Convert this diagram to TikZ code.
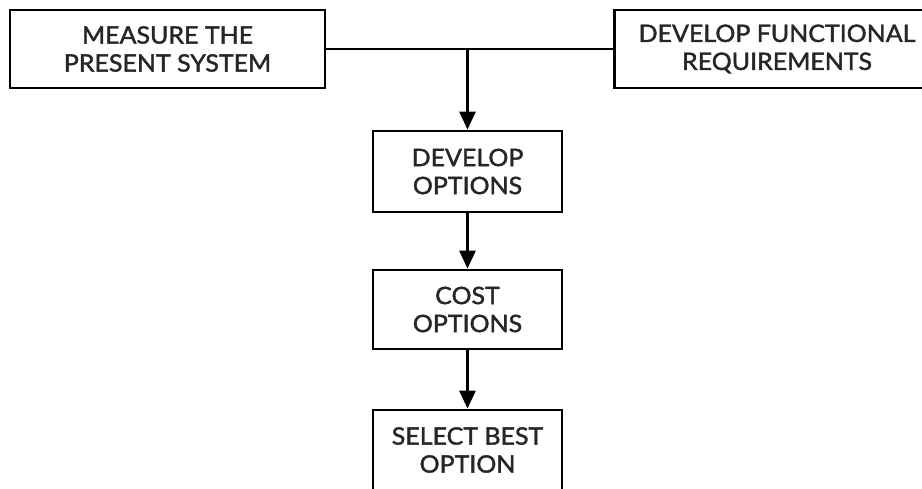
\documentclass[tikz,border=0pt]{standalone}
\usepackage{fontspec}
\setmainfont{Lato}
\newfontfamily\boxfont{Lato}[FakeBold=1.6, FakeStretch=1.04]
\usetikzlibrary{arrows.meta}
\begin{document}
\begin{tikzpicture}[x=1pt,y=-1pt,
  box/.style={draw=black, line width=2.8pt, align=center, inner sep=0pt,
    font=\boxfont\fontsize{24}{28}\selectfont, text=black!85},
  conn/.style={line width=2.8pt, draw=black},
  arr/.style={conn, -{Triangle[length=18pt,width=16pt]}}]
\clip (0,0) rectangle (922,488);
\fill[white] (0,0) rectangle (922,488);
\node[box, minimum width=315pt, minimum height=78pt] (b1) at (167.5,49) {MEASURE THE\\PRESENT SYSTEM};
\node[box, minimum width=325pt, minimum height=78pt] (b2) at (777,49) {DEVELOP FUNCTIONAL\\REQUIREMENTS};
\node[box, minimum width=189pt, minimum height=81pt] (b3) at (467.5,171.5) {DEVELOP\\OPTIONS};
\node[box, minimum width=189pt, minimum height=79pt] (b4) at (467.5,309.5) {COST\\OPTIONS};
\node[box, minimum width=189pt, minimum height=80pt] (b5) at (467.5,450) {SELECT BEST\\OPTION};
\coordinate (j) at (b3.north |- b1.east);
\draw[conn] (b1.east) -- (b2.west);
\draw[arr] (j) -- (b3.north);
\draw[arr] (b3.south) -- (b4.north);
\draw[arr] (b4.south) -- (b5.north);
\end{tikzpicture}
\end{document}
